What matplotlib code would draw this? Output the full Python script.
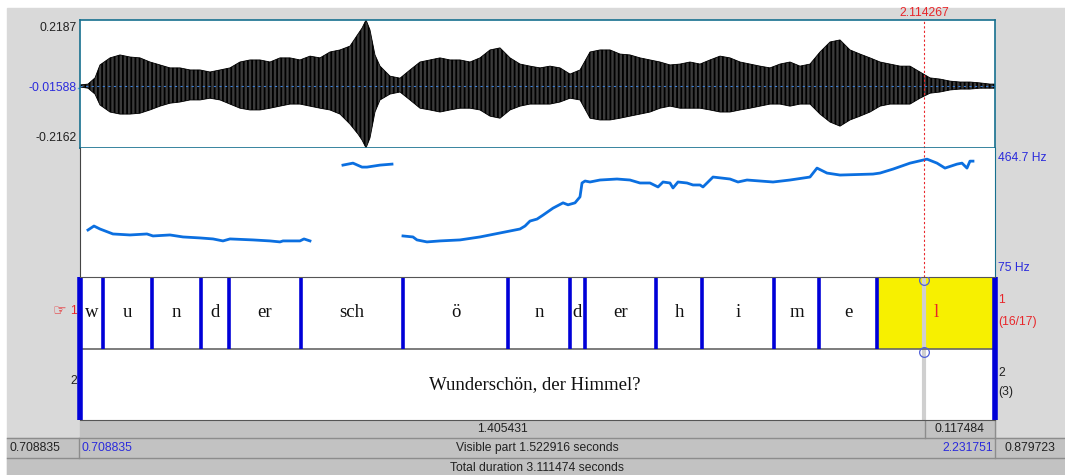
import matplotlib
matplotlib.use("Agg")
import matplotlib.pyplot as plt
from matplotlib.patches import Rectangle
import numpy as np

# visible window and cursor (seconds)
t_start = 0.708835
t_end = 2.231751
t_cursor = 2.114267
left_of_cursor = 1.405431
right_of_cursor = 0.117484
visible_part = 1.522916
after_window = 0.879723
total_dur = 3.111474
amp_top = 0.2187
amp_bot = -0.2162
amp_mid = -0.01588
f0_min = 75
f0_max = 464.7

# waveform envelope (time, upper, lower)
env_t = [0.7088, 0.7222, 0.7338, 0.7421, 0.7588, 0.7754, 0.7921, 0.8087, 0.8253, 0.8420,
         0.8586, 0.8753, 0.8919, 0.9086, 0.9252, 0.9419, 0.9585, 0.9751, 0.9918, 1.0084,
         1.0251, 1.0417, 1.0584, 1.0750, 1.0917, 1.1083, 1.1249, 1.1416, 1.1582, 1.1716,
         1.1782, 1.1849, 1.1915, 1.1998, 1.2082, 1.2248, 1.2415, 1.2581, 1.2748, 1.2914,
         1.3080, 1.3247, 1.3413, 1.3580, 1.3746, 1.3913, 1.4079, 1.4246, 1.4412, 1.4578,
         1.4745, 1.4911, 1.5078, 1.5244, 1.5411, 1.5577, 1.5744, 1.5910, 1.6076, 1.6243,
         1.6409, 1.6576, 1.6742, 1.6909, 1.7075, 1.7241, 1.7408, 1.7574, 1.7741, 1.7907,
         1.8074, 1.8240, 1.8407, 1.8573, 1.8739, 1.8906, 1.9072, 1.9239, 1.9405, 1.9572,
         1.9738, 1.9904, 2.0071, 2.0237, 2.0404, 2.0570, 2.0737, 2.0903, 2.1069, 2.1236,
         2.1402, 2.1569, 2.1735, 2.1902, 2.2068, 2.2235, 2.2318]
env_hi = [-0.002, 0.001, 0.022, 0.066, 0.090, 0.100, 0.093, 0.090, 0.076, 0.066,
          0.056, 0.056, 0.049, 0.049, 0.042, 0.049, 0.056, 0.076, 0.083, 0.083,
          0.076, 0.090, 0.090, 0.083, 0.096, 0.090, 0.110, 0.117, 0.130, 0.171,
          0.191, 0.219, 0.185, 0.100, 0.062, 0.028, 0.021, 0.049, 0.076, 0.083,
          0.090, 0.083, 0.083, 0.076, 0.090, 0.117, 0.124, 0.090, 0.069, 0.062,
          0.056, 0.062, 0.056, 0.035, 0.049, 0.110, 0.117, 0.117, 0.103, 0.100,
          0.090, 0.083, 0.076, 0.066, 0.069, 0.076, 0.069, 0.083, 0.096, 0.090,
          0.076, 0.069, 0.062, 0.056, 0.069, 0.076, 0.062, 0.069, 0.110, 0.144,
          0.151, 0.117, 0.103, 0.090, 0.076, 0.069, 0.062, 0.062, 0.042, 0.022,
          0.018, 0.011, 0.008, 0.008, 0.005, 0.001, 0.001]
env_lo = [-0.009, -0.013, -0.033, -0.070, -0.094, -0.101, -0.101, -0.098, -0.087, -0.074,
          -0.064, -0.060, -0.053, -0.053, -0.047, -0.053, -0.067, -0.081, -0.087, -0.087,
          -0.081, -0.074, -0.067, -0.067, -0.074, -0.081, -0.087, -0.101, -0.135, -0.169,
          -0.189, -0.216, -0.182, -0.094, -0.053, -0.033, -0.026, -0.053, -0.081, -0.087,
          -0.094, -0.087, -0.081, -0.081, -0.087, -0.108, -0.115, -0.087, -0.074, -0.067,
          -0.067, -0.067, -0.060, -0.047, -0.053, -0.115, -0.121, -0.121, -0.115, -0.108,
          -0.101, -0.094, -0.081, -0.074, -0.081, -0.081, -0.081, -0.087, -0.094, -0.094,
          -0.087, -0.081, -0.074, -0.067, -0.067, -0.074, -0.067, -0.067, -0.101, -0.128,
          -0.142, -0.121, -0.108, -0.094, -0.074, -0.067, -0.067, -0.067, -0.047, -0.030,
          -0.026, -0.019, -0.016, -0.016, -0.013, -0.013, -0.013]

# pitch contour (Hz), three voiced stretches
f0_t1 = [0.7221, 0.7321, 0.7421, 0.7637, 0.7920, 0.8203, 0.8303, 0.8586, 0.8802, 0.9086,
         0.9302, 0.9468, 0.9585, 0.9968, 1.0250, 1.0417, 1.0467, 1.0750, 1.0816, 1.0916]
f0_v1 = [217, 229, 220, 205, 202, 205, 199, 202, 196, 193,
         190, 184, 190, 187, 184, 181, 184, 184, 190, 184]
f0_t2 = [1.1465, 1.1632, 1.1782, 1.1865, 1.2081, 1.2281]
f0_v2 = [413, 419, 407, 407, 413, 416]
f0_t3 = [1.2464, 1.2630, 1.2697, 1.2863, 1.3080, 1.3413, 1.3746, 1.4079, 1.4412, 1.4495,
         1.4578, 1.4695, 1.4795, 1.4961, 1.5128, 1.5211, 1.5327, 1.5410, 1.5444, 1.5494,
         1.5577, 1.5743, 1.6026, 1.6242, 1.6409, 1.6575, 1.6709, 1.6792, 1.6908, 1.6958,
         1.7041, 1.7191, 1.7291, 1.7408, 1.7457, 1.7541, 1.7624, 1.7907, 1.8040, 1.8190,
         1.8623, 1.8906, 1.9238, 1.9355, 1.9521, 1.9738, 2.0287, 2.0404, 2.0620, 2.0903,
         2.1186, 2.1352, 2.1485, 2.1685, 2.1768, 2.1851, 2.1901, 2.1951]
f0_v3 = [199, 196, 187, 181, 184, 187, 196, 208, 220, 229,
         244, 250, 262, 283, 299, 293, 299, 317, 359, 365,
         362, 368, 371, 368, 359, 359, 347, 362, 359, 344,
         362, 359, 353, 353, 347, 362, 377, 371, 362, 368,
         362, 368, 377, 404, 389, 383, 386, 389, 401, 419,
         431, 419, 404, 416, 419, 404, 425, 425]

# tier 1: phone boundaries and labels inside the window
tier1_bounds = [0.7471, 0.8287, 0.9102, 0.9568, 1.0767, 1.2464, 1.4212, 1.5244,
                1.5493, 1.6675, 1.7441, 1.8639, 1.9388, 2.0354]
tier1_labels = ["w", "u", "n", "d", "er", "sch", "ö", "n", "d", "er", "h", "i", "m", "e", "l"]
tier2_text = "Wunderschön, der Himmel?"

W, H = 1065, 475
plt.rcParams["hatch.linewidth"] = 1.3
fig = plt.figure(figsize=(W / 100, H / 100), dpi=100)
fig.patch.set_facecolor("white")

# chrome axes in pixel coordinates
bg = fig.add_axes([0, 0, 1, 1])
bg.set_xlim(0, W)
bg.set_ylim(H, 0)
bg.axis("off")

GRAY = "#d9d9d9"
DGRAY = "#c2c2c2"
LINE = "#8c8c8c"
TXT = "#222222"
BLUE_TXT = "#2b2bdc"
RED = "#e8262a"
sans = "Liberation Sans"
serif = "Liberation Serif"

bg.add_patch(Rectangle((7, 8), W - 7, H - 8, color=GRAY, zorder=0))
bg.add_patch(Rectangle((80, 420), 915, 18, color=DGRAY, zorder=0))
bg.add_patch(Rectangle((7, 438), W - 7, H - 438, color=DGRAY, zorder=0))
for y in (438, 458):
    bg.plot([7, W], [y, y], color=LINE, lw=1, zorder=1)
bg.plot([79, 79], [438, 458], color=LINE, lw=1)
bg.plot([995, 995], [438, 458], color=LINE, lw=1)
bg.plot([925, 925], [420, 438], color=LINE, lw=1)
bg.plot([995, 995], [420, 438], color=LINE, lw=1)

fs = 8.7
x0, x1 = 80, 995


def px(t):
    return x0 + (t - t_start) / (t_end - t_start) * (x1 - x0)


xc = px(t_cursor)
bg.text(xc, 13, f"{t_cursor:.6f}", color=RED, fontsize=fs, family=sans, ha="center", va="center")
bg.text((x0 + xc) / 2, 429, f"{left_of_cursor:.6f}", fontsize=fs, family=sans,
        ha="center", va="center", color=TXT)
bg.text((xc + x1) / 2, 429, f"{right_of_cursor:.6f}", fontsize=fs, family=sans,
        ha="center", va="center", color=TXT)
bg.text(10, 448, f"{t_start:.6f}", fontsize=fs, family=sans, va="center", color=TXT)
bg.text(82, 448, f"{t_start:.6f}", fontsize=fs, family=sans, va="center", color=BLUE_TXT)
bg.text((x0 + x1) / 2, 448, f"Visible part {visible_part:.6f} seconds", fontsize=fs,
        family=sans, ha="center", va="center", color=TXT)
bg.text(993, 448, f"{t_end:.6f}", fontsize=fs, family=sans, ha="right", va="center", color=BLUE_TXT)
bg.text(1030, 448, f"{after_window:.6f}", fontsize=fs, family=sans, ha="center",
        va="center", color=TXT)
bg.text((x0 + x1) / 2, 468, f"Total duration {total_dur:.6f} seconds", fontsize=fs,
        family=sans, ha="center", va="center", color=TXT)

# waveform labels
bg.text(77, 28, f"{amp_top:.4f}", fontsize=fs, family=sans, ha="right", va="center", color=TXT)
bg.text(77, 88, f"{amp_mid:.5f}", fontsize=fs, family=sans, ha="right", va="center", color=BLUE_TXT)
bg.plot([78, 86], [88, 88], color="#3fa0e0", lw=1)
bg.text(77, 138, f"{amp_bot:.4f}", fontsize=fs, family=sans, ha="right", va="center", color=TXT)
bg.text(998, 158, f"{f0_max} Hz", fontsize=fs, family=sans, va="center", color=BLUE_TXT)
bg.text(998, 268, f"{f0_min} Hz", fontsize=fs, family=sans, va="center", color=BLUE_TXT)

# tier numbers
bg.text(66, 311, "☞", fontsize=11, family=["DejaVu Sans"], ha="right", va="center", color=RED)
bg.text(77, 311, "1", fontsize=fs, family=sans, ha="right", va="center", color=RED)
bg.text(77, 381, "2", fontsize=fs, family=sans, ha="right", va="center", color=TXT)
bg.text(998, 300, "1", fontsize=fs, family=sans, va="center", color=RED)
bg.text(998, 322, "(16/17)", fontsize=fs, family=sans, va="center", color=RED)
bg.text(998, 373, "2", fontsize=fs, family=sans, va="center", color=TXT)
bg.text(998, 392, "(3)", fontsize=fs, family=sans, va="center", color=TXT)


def box(top, bottom):
    return [x0 / W, 1 - bottom / H, (x1 - x0) / W, (bottom - top) / H]


# waveform: envelope filled, vertical hatch gives the dense-oscillation look
ax_w = fig.add_axes(box(20, 148))
ax_w.set_xlim(t_start, t_end)
ax_w.set_ylim(amp_bot, amp_top)
ax_w.fill_between(env_t, env_lo, env_hi, facecolor="#3a3a3a", edgecolor="#000000",
                  hatch="||||", lw=0.6)
ax_w.axhline(amp_mid + 0.01, color="#3c7fd6", lw=0.8, ls=(0, (2, 3)))
ax_w.axvline(t_cursor, color=RED, lw=0.8, ls=(0, (2, 2)))
for s in ax_w.spines.values():
    s.set_color("#17708f")
    s.set_linewidth(1.2)
ax_w.set_xticks([])
ax_w.set_yticks([])

# pitch
ax_p = fig.add_axes(box(148, 277))
ax_p.set_xlim(t_start, t_end)
ax_p.set_ylim(f0_min, f0_max)
for tt, vv in ((f0_t1, f0_v1), (f0_t2, f0_v2), (f0_t3, f0_v3)):
    ax_p.plot(tt, vv, color="#0b6fe0", lw=2)
ax_p.axvline(t_cursor, color=RED, lw=0.8, ls=(0, (2, 2)))
ax_p.spines["top"].set_visible(False)
ax_p.spines["bottom"].set_visible(False)
ax_p.spines["left"].set_color("#444444")
ax_p.spines["right"].set_color("#17708f")
ax_p.set_xticks([])
ax_p.set_yticks([])

# tiers
ax_t = fig.add_axes(box(277, 420))
ax_t.set_xlim(t_start, t_end)
ax_t.set_ylim(0, 2)
ax_t.axvspan(tier1_bounds[-1], t_end, ymin=0.5, ymax=1, color="#f7f000", lw=0)
ax_t.axhline(1, color="#666666", lw=1.2)
for b in tier1_bounds:
    ax_t.plot([b, b], [1, 2], color="#0000d8", lw=2.6, solid_capstyle="butt")
for b in (t_start, t_end):
    ax_t.plot([b, b], [0, 2], color="#0000d8", lw=4, solid_capstyle="butt", clip_on=False)
edges = [t_start] + tier1_bounds + [t_end]
for i, lab in enumerate(tier1_labels):
    mid = (edges[i] + edges[i + 1]) / 2
    col = RED if i == len(tier1_labels) - 1 else "#111111"
    ax_t.text(mid, 1.5, lab, fontsize=13.5, family=serif, ha="center", va="center", color=col)
ax_t.text((t_start + t_end) / 2 - 0.005, 0.5, tier2_text, fontsize=13.5, family=serif,
          ha="center", va="center", color="#111111")
ax_t.plot([t_cursor, t_cursor], [0, 2], color="#cfcfcf", lw=3, zorder=1)
ax_t.plot([t_cursor, t_cursor], [1.96, 0.95], ls="none", marker="o", ms=7,
          mfc="none", mec="#5060d8", mew=0.9, zorder=3)
for s in ("left", "right"):
    ax_t.spines[s].set_visible(False)
ax_t.spines["top"].set_color("#555555")
ax_t.spines["bottom"].set_color("#555555")
ax_t.set_xticks([])
ax_t.set_yticks([])

fig.savefig("out.png", dpi=100, facecolor=fig.get_facecolor())
